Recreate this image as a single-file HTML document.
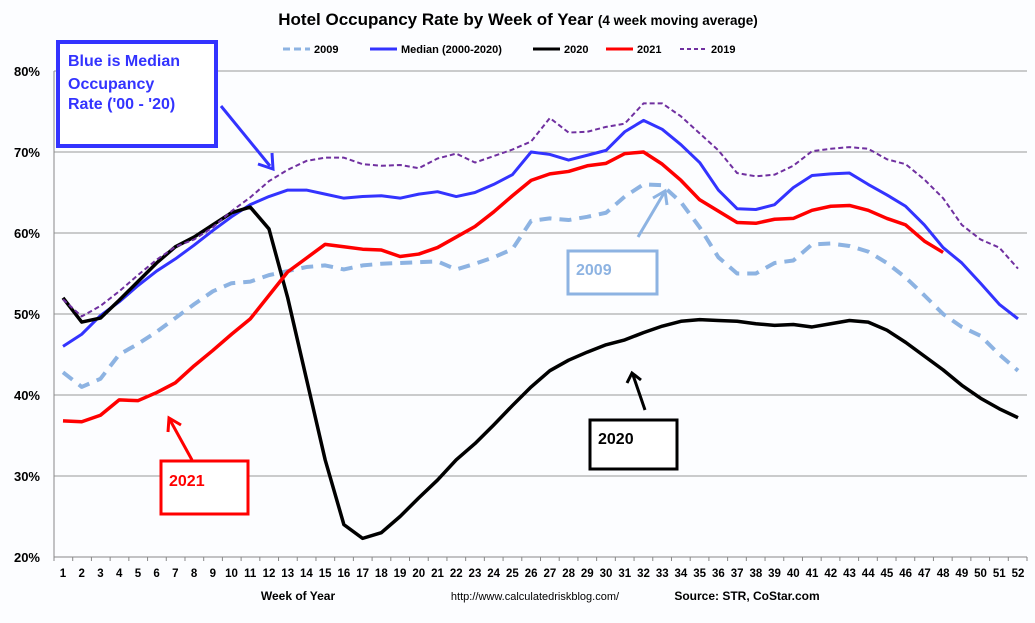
<!DOCTYPE html>
<html><head><meta charset="utf-8"><style>
body{margin:0;background:#fff;}
svg{display:block;font-family:"Liberation Sans",sans-serif;}
</style></head><body>
<svg id="c" width="1035" height="623">
<rect width="1035" height="623" fill="#fcfdff"/>
<text x="518" y="25" text-anchor="middle" font-size="17" font-weight="bold">Hotel Occupancy Rate by  Week of Year <tspan font-size="13.5">(4 week moving average)</tspan></text>
<g id="grid"></g><g id="series"></g>
<g font-size="11" font-weight="bold">
<line x1="283" y1="49" x2="310" y2="49" stroke="#8db3e2" stroke-width="3" stroke-dasharray="7,4"/><text x="314" y="53">2009</text>
<line x1="370" y1="49" x2="397" y2="49" stroke="#3333ff" stroke-width="3"/><text x="401" y="53">Median (2000-2020)</text>
<line x1="533" y1="49" x2="560" y2="49" stroke="#000" stroke-width="3"/><text x="564" y="53">2020</text>
<line x1="606" y1="49" x2="633" y2="49" stroke="#ff0000" stroke-width="3"/><text x="637" y="53">2021</text>
<line x1="680" y1="49" x2="707" y2="49" stroke="#7030a0" stroke-width="2" stroke-dasharray="4,3"/><text x="711" y="53">2019</text>
</g>
<g>
<rect x="58" y="42" width="158" height="104" fill="#fff" stroke="#3333ff" stroke-width="4"/>
<text x="68" y="66" font-size="16" font-weight="bold" fill="#3333ff">Blue is Median</text>
<text x="68" y="89" font-size="16" font-weight="bold" fill="#3333ff">Occupancy</text>
<text x="68" y="109" font-size="16" font-weight="bold" fill="#3333ff">Rate ('00 - '20)</text>
<line x1="221" y1="106" x2="270" y2="166" stroke="#3333ff" stroke-width="3"/>
<polyline points="258,164 273,169 272,153" fill="none" stroke="#3333ff" stroke-width="3"/>
</g>
<g>
<rect x="161" y="461" width="87" height="53" fill="#fff" stroke="#ff0000" stroke-width="3"/>
<text x="169" y="486" font-size="16" font-weight="bold" fill="#ff0000">2021</text>
<line x1="192" y1="460" x2="170" y2="420" stroke="#ff0000" stroke-width="3"/>
<polyline points="168,432 169,418 181,425" fill="none" stroke="#ff0000" stroke-width="3"/>
</g>
<g>
<rect x="568" y="251" width="89" height="43" fill="#fff" stroke="#8db3e2" stroke-width="3"/>
<text x="576" y="275" font-size="16" font-weight="bold" fill="#8db3e2">2009</text>
<line x1="638" y1="237" x2="664" y2="193" stroke="#8db3e2" stroke-width="3"/>
<polyline points="653,198 665,191 667,205" fill="none" stroke="#8db3e2" stroke-width="3"/>
</g>
<g>
<rect x="590" y="420" width="87" height="49" fill="#fff" stroke="#000" stroke-width="3"/>
<text x="598" y="444" font-size="16" font-weight="bold">2020</text>
<line x1="645" y1="410" x2="633" y2="375" stroke="#000" stroke-width="3"/>
<polyline points="627,383 632,373 641,380" fill="none" stroke="#000" stroke-width="3"/>
</g>
<text x="298" y="600" text-anchor="middle" font-size="12" font-weight="bold">Week of Year</text>
<text x="535" y="600" text-anchor="middle" font-size="11">http://www.calculatedriskblog.com/</text>
<text x="747" y="600" text-anchor="middle" font-size="12" font-weight="bold">Source: STR, CoStar.com</text>
</svg>
<script>
const weeks=[];for(let i=1;i<=52;i++)weeks.push(i);
const yTicks=[20,30,40,50,60,70,80];
const median=[46,47.5,49.8,51.5,53.5,55.3,56.8,58.5,60.3,62,63.5,64.5,65.3,65.3,64.8,64.3,64.5,64.6,64.3,64.8,65.1,64.5,65,66,67.2,70,69.7,69,69.6,70.2,72.5,73.9,72.8,70.9,68.7,65.3,63,62.9,63.5,65.6,67.1,67.3,67.4,66,64.7,63.3,61,58.2,56.3,53.8,51.2,49.4];
const s2019=[51.8,49.7,51,52.8,54.8,56.7,58.3,59.2,60.7,62.7,64.4,66.4,67.8,68.9,69.3,69.3,68.5,68.3,68.4,68,69.2,69.8,68.7,69.5,70.3,71.3,74.2,72.4,72.5,73.1,73.5,76,76,74.4,72.3,70.2,67.4,67,67.2,68.3,70.1,70.4,70.6,70.4,69.1,68.5,66.6,64.3,61,59.2,58.2,55.6];
const s2020=[52,49,49.5,51.7,54,56.3,58.3,59.5,61,62.5,63.2,60.5,52,42,32,24,22.3,23,25,27.3,29.5,32,34,36.3,38.7,41,43,44.3,45.3,46.2,46.8,47.7,48.5,49.1,49.3,49.2,49.1,48.8,48.6,48.7,48.4,48.8,49.2,49,48,46.5,44.8,43.1,41.2,39.6,38.3,37.2];
const s2021=[36.8,36.7,37.5,39.4,39.3,40.3,41.5,43.6,45.5,47.5,49.4,52.3,55.2,56.9,58.6,58.3,58,57.9,57.1,57.4,58.2,59.5,60.8,62.6,64.6,66.5,67.3,67.6,68.3,68.6,69.8,70,68.5,66.5,64.1,62.7,61.3,61.2,61.7,61.8,62.8,63.3,63.4,62.8,61.8,61,59,57.6];
const s2009=[42.8,41,42,45,46.3,47.8,49.5,51.2,52.8,53.8,54,54.8,55.3,55.8,56,55.5,56,56.2,56.3,56.4,56.5,55.5,56.2,57,58,61.5,61.8,61.6,62,62.5,64.5,66,65.9,63.8,60.7,57,55,55,56.3,56.6,58.6,58.7,58.4,57.7,56.3,54.5,52.3,50,48.4,47.3,45,43];
const NS="http://www.w3.org/2000/svg";
const X=w=>63+(w-1)*(1018-63)/51;
const Y=v=>557-(v-20)*8.1;
const g=document.getElementById('grid'),sg=document.getElementById('series');
function mk(t,a,p){const e=document.createElementNS(NS,t);for(const k in a)e.setAttribute(k,a[k]);p.appendChild(e);return e;}
yTicks.forEach(v=>{
 const l=mk('line',{x1:54,x2:1027,y1:Y(v),y2:Y(v),stroke:v===20?'#888':'#999','stroke-width':1},g);
 
 
 const t=mk('text',{x:40,y:Y(v)+5,'text-anchor':'end','font-size':13,'font-weight':'bold'},g);t.textContent=v+'%';
 
 
});
const ax=mk('line',{x1:54,x2:54,y1:Y(80),y2:Y(20)+4,stroke:'#888'},g);


for(let i=0;i<=52;i++){const x=54+i*(1027-54)/52;mk('line',{x1:x,x2:x,y1:557,y2:561,stroke:'#888'},g);}
weeks.forEach(w=>{const t=mk('text',{x:X(w),y:577,'text-anchor':'middle','font-size':11.5,'font-weight':'bold'},g);t.textContent=w;
 
 });
function line(d,col,wd,dash,name){
 const p=mk('polyline',{points:d.map((v,i)=>X(weeks[i])+','+Y(v)).join(' '),fill:'none',stroke:col,'stroke-width':wd,'stroke-linejoin':'round'},sg);
 if(dash)p.setAttribute('stroke-dasharray',dash);
 
 
}
line(s2009,'#8db3e2',4,'12,8','series-2009');
line(median,'#3333ff',3,null,'series-median');
line(s2020,'#000',3.5,null,'series-2020');
line(s2019,'#7030a0',2,'5,3','series-2019');
line(s2021,'#ff0000',3.5,null,'series-2021');
</script>
</body></html>
